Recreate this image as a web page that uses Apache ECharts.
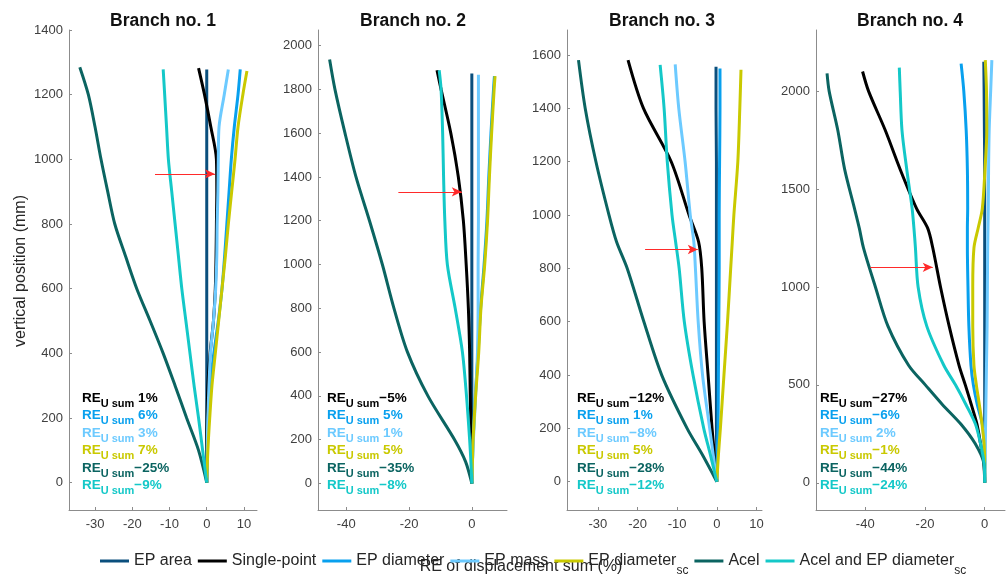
<!DOCTYPE html>
<html>
<head>
<meta charset="utf-8">
<script src="https://cdn.jsdelivr.net/npm/echarts@6/dist/echarts.min.js"></script>
<style>
html, body { margin: 0; padding: 0; background: #fff; }
#chart { width: 1008px; height: 575px; }
</style>
</head>
<body>
<div id="chart"></div>
<script>
var names = ['EP area', 'Single-point', 'EP diameter', 'EP mass', 'EP diameter_sc', 'Acel', 'Acel and EP diameter_sc'];
var colors = ['#0a4f7d', '#000000', '#08a0ee', '#6ccaff', '#c9c900', '#0b6461', '#14c8c8'];
var titles = ['Branch no. 1', 'Branch no. 2', 'Branch no. 3', 'Branch no. 4'];

// vertical position (mm), last point of each curve is its own top height
var b1Heights = [0, 100, 200, 300, 400, 500, 600, 700, 800, 900, 1000, 1100, 1200];
var b1Top = [1278, 1282, 1278, 1278, 1273, 1285, 1278];
var b1Area = [0, 0, 0, 0, 0, 0, 0, 0, 0, 0, 0, 0, 0, 0];
var b1Single = [0, 0, 0.1, 0.3, 0.9, 1.8, 2.3, 2.5, 2.6, 2.7, 2.6, 1.1, -0.6, -2.2];
var b1Diameter = [0, 0.2, 0.4, 0.9, 1.9, 3.1, 4.1, 4.8, 5.4, 6.0, 6.6, 7.4, 8.4, 9.0];
var b1Mass = [0, 0.1, 0.3, 0.6, 1.0, 1.8, 2.4, 2.7, 2.8, 3.0, 3.1, 3.3, 4.7, 5.8];
var b1DiameterSc = [0, 0.3, 0.8, 1.4, 2.3, 3.2, 4.1, 5.0, 5.8, 6.7, 7.6, 8.4, 9.7, 10.8];
var b1Acel = [0, -2.2, -5.4, -8.5, -11.7, -15.2, -18.8, -21.8, -24.7, -26.6, -28.4, -30.0, -31.8, -34.1];
var b1AcelSc = [0, -1.1, -2.2, -3.4, -4.5, -5.6, -6.7, -7.6, -8.5, -9.4, -10.3, -10.8, -11.3, -11.7];

var b2Heights = [0, 100, 200, 400, 600, 800, 1000, 1200, 1400, 1600, 1800];
var b2Top = [1872, 1887, 1860, 1867, 1860, 1936, 1887];
var b2Area = [0, 0, 0, 0, 0, 0, 0, 0, 0, 0, 0, 0];
var b2Single = [0, 0, -0.2, -0.5, -0.7, -1.1, -1.8, -2.7, -4.3, -6.7, -9.8, -11.1];
var b2Diameter = [0, 0.2, 0.4, 1.1, 2.0, 2.8, 3.9, 4.8, 5.4, 6.1, 6.9, 7.2];
var b2Mass = [0, 0.2, 0.5, 1.2, 1.8, 2.0, 2.0, 2.1, 2.1, 2.1, 2.1, 2.1];
var b2DiameterSc = [0, 0.2, 0.4, 1.2, 2.2, 2.9, 4.1, 5.0, 5.6, 6.3, 7.1, 7.4];
var b2Acel = [0, -2.0, -5.5, -14.0, -20.5, -24.8, -28.5, -32.6, -36.9, -40.4, -43.6, -45.3];
var b2AcelSc = [0, -0.3, -0.7, -1.7, -3.0, -5.3, -7.8, -8.6, -9.0, -9.3, -9.8, -10.4];

var b3Heights = [0, 100, 200, 400, 600, 800, 900, 1000, 1200, 1400];
var b3Top = [1556, 1581, 1550, 1565, 1545, 1581, 1563];
var b3Area = [0, 0, -0.1, -0.1, -0.1, -0.1, -0.1, -0.1, -0.1, -0.2, -0.2];
var b3Single = [0, -0.6, -1.2, -2.2, -3.2, -3.8, -4.6, -7.0, -11.5, -18.5, -22.4];
var b3Diameter = [0, 0.1, 0.3, 0.4, 0.5, 0.6, 0.6, 0.6, 0.7, 0.8, 0.8];
var b3Mass = [0, -0.9, -1.8, -3.6, -4.7, -5.4, -5.8, -6.7, -8.0, -9.6, -10.5];
var b3DiameterSc = [0, 0.4, 0.9, 1.8, 2.7, 3.5, 3.9, 4.3, 5.3, 5.8, 6.1];
var b3Acel = [0, -3.6, -7.5, -13.9, -18.4, -22.6, -25.3, -27.2, -30.5, -33.2, -34.9];
var b3AcelSc = [0, -1.6, -3.3, -6.0, -8.2, -9.5, -10.4, -11.3, -12.5, -13.3, -14.3];

var b4Heights = [0, 100, 200, 300, 400, 500, 600, 800, 1000, 1200, 1300, 1400, 1600, 1800, 2000];
var b4Top = [2150, 2100, 2140, 2158, 2158, 2090, 2120];
var b4Area = [0, 0, 0, 0, 0, 0, 0, 0, 0, 0, 0, 0, 0, -0.1, -0.2, -0.3];
var b4Single = [0, -0.3, -1.4, -2.6, -4.5, -6.5, -8.6, -11.9, -14.8, -17.4, -19.1, -22.8, -28.3, -33.3, -38.9, -40.9];
var b4Diameter = [0, 0, -0.2, -0.8, -2.5, -3.8, -4.6, -5.3, -5.6, -5.8, -5.8, -5.7, -5.8, -6.2, -7.0, -7.9];
var b4Mass = [0, 0.1, 0.2, 0.3, 0.4, 0.5, 0.6, 0.8, 0.9, 1.0, 1.1, 1.2, 1.3, 1.5, 2.0, 2.4];
var b4DiameterSc = [0, 0, -0.2, -0.9, -1.8, -2.8, -3.6, -4.0, -4.0, -3.6, -2.2, -0.8, 0.1, 0.7, 0.6, 0.2];
var b4Acel = [0, -0.3, -3.2, -8.0, -14.2, -19.9, -25.5, -32.4, -36.6, -40.6, -42.0, -43.6, -46.9, -49.2, -52.1, -52.8];
var b4AcelSc = [0, -0.2, -1.4, -3.1, -6.3, -9.8, -13.7, -19.4, -22.3, -23.2, -23.7, -24.3, -26.1, -27.7, -28.3, -28.6];

// RE_U sum per curve (single, diameter, mass, diameter_sc, acel, acel+sc)
var b1RE = [1, 6, 3, 7, -25, -9];
var b2RE = [-5, 5, 1, 5, -35, -8];
var b3RE = [-12, 1, -8, 5, -28, -12];
var b4RE = [-27, -6, 2, -1, -44, -24];

// red arrows: height and x from / to
var arrowY = [955, 1332, 871, 1100];
var arrowFrom = [-13.9, -23.4, -18.1, -38.3];
var arrowTo = [2.2, -3.2, -4.8, -17.4];

var xMin = [-37, -49, -37.8, -56.5];
var xMax = [13.5, 11.2, 11.4, 6.8];
var yMin = [-84.5, -121, -106, -139];
var yMax = [1400, 2071, 1694, 2312];
var xTicks = [[-30, -20, -10, 0, 10], [-40, -20, 0], [-30, -20, -10, 0, 10], [-40, -20, 0]];
var yTicks = [
    [0, 200, 400, 600, 800, 1000, 1200, 1400],
    [0, 200, 400, 600, 800, 1000, 1200, 1400, 1600, 1800, 2000],
    [0, 200, 400, 600, 800, 1000, 1200, 1400, 1600],
    [0, 500, 1000, 1500, 2000]
];

var branches = [
    {h: b1Heights, top: b1Top, lines: [b1Area, b1Single, b1Diameter, b1Mass, b1DiameterSc, b1Acel, b1AcelSc], re: b1RE},
    {h: b2Heights, top: b2Top, lines: [b2Area, b2Single, b2Diameter, b2Mass, b2DiameterSc, b2Acel, b2AcelSc], re: b2RE},
    {h: b3Heights, top: b3Top, lines: [b3Area, b3Single, b3Diameter, b3Mass, b3DiameterSc, b3Acel, b3AcelSc], re: b3RE},
    {h: b4Heights, top: b4Top, lines: [b4Area, b4Single, b4Diameter, b4Mass, b4DiameterSc, b4Acel, b4AcelSc], re: b4RE}
];

var font = 'Liberation Sans, Arial, Helvetica, sans-serif';
var axisColor = '#8c8c8c';
var gridLeft = [69, 318, 567, 816];
var gridWidth = [188, 189, 195, 189];
var titleX = [163, 413, 662, 910];
var annX = [82, 327, 577, 820];
var rowTop = [391, 408.5, 426, 443.5, 461, 478.5];

var myChart = echarts.init(document.getElementById('chart'));

var grids = [], xAxes = [], yAxes = [], series = [], graphics = [];

function plain(v) {
    return String(v);
}

branches.forEach(function (b, i) {
    grids.push({left: gridLeft[i], width: gridWidth[i], top: 30, height: 480});
    xAxes.push({
        type: 'value', gridIndex: i, min: xMin[i], max: xMax[i],
        axisLine: {show: true, onZero: false, lineStyle: {color: axisColor}},
        axisTick: {show: true, inside: true, length: 3, customValues: xTicks[i], lineStyle: {color: axisColor}},
        axisLabel: {customValues: xTicks[i], formatter: plain, color: '#404040', fontSize: 13, fontFamily: font, margin: 8},
        splitLine: {show: false}
    });
    yAxes.push({
        type: 'value', gridIndex: i, min: yMin[i], max: yMax[i],
        axisLine: {show: true, onZero: false, lineStyle: {color: axisColor}},
        axisTick: {show: true, inside: true, length: 3, customValues: yTicks[i], lineStyle: {color: axisColor}},
        axisLabel: {customValues: yTicks[i], formatter: plain, color: '#404040', fontSize: 13, fontFamily: font, margin: 6},
        splitLine: {show: false}
    });

    b.lines.forEach(function (vals, s) {
        var hs = b.h.concat([b.top[s]]);
        var data = vals.map(function (v, k) { return [v, hs[k]]; });
        var ser = {
            type: 'line', name: names[s], xAxisIndex: i, yAxisIndex: i,
            data: data, symbol: 'none', showSymbol: false, silent: true,
            smooth: 0.3,
            color: colors[s],
            lineStyle: {width: 3, color: colors[s]},
            itemStyle: {color: colors[s]}
        };
        if (s == b.lines.length - 1) {
            ser.markLine = {
                silent: true, symbol: ['none', 'arrow'], symbolSize: [7, 10],
                label: {show: false},
                lineStyle: {color: '#ff2a2a', width: 1, type: 'solid'},
                data: [[{coord: [arrowFrom[i], arrowY[i]]}, {coord: [arrowTo[i], arrowY[i]]}]]
            };
        }
        series.push(ser);
    });

    graphics.push({
        type: 'text', x: titleX[i], y: 21,
        style: {text: titles[i], font: 'bold 17.5px ' + font, fill: '#111', align: 'center', verticalAlign: 'middle'}
    });

    b.re.forEach(function (v, r) {
        var c = colors[r + 1];
        var val = v < 0 ? '\u2212' + Math.abs(v) + '%' : ' ' + v + '%';
        graphics.push({
            type: 'text', x: annX[i], y: rowTop[r],
            style: {
                text: '{re|RE}{sub|U sum}{val|' + val + '}',
                verticalAlign: 'top',
                rich: {
                    re: {fontSize: 13.5, fontWeight: 'bold', fontFamily: font, lineHeight: 14, verticalAlign: 'top', fill: c},
                    sub: {fontSize: 11, fontWeight: 'bold', fontFamily: font, lineHeight: 11, padding: [7, 0, 0, 0], verticalAlign: 'top', fill: c},
                    val: {fontSize: 13.5, fontWeight: 'bold', fontFamily: font, lineHeight: 14, verticalAlign: 'top', fill: c}
                }
            }
        });
    });
});

graphics.push({
    type: 'text', x: 21, y: 271, rotation: Math.PI / 2,
    style: {text: 'vertical position (mm)', font: '16px ' + font, fill: '#262626', align: 'center', verticalAlign: 'middle'}
});
graphics.push({
    type: 'text', x: 521, y: 567,
    style: {text: 'RE of displacement sum (%)', font: '16px ' + font, fill: '#262626', align: 'center', verticalAlign: 'middle'}
});

var option = {
    animation: false,
    backgroundColor: '#fff',
    grid: grids,
    xAxis: xAxes,
    yAxis: yAxes,
    series: series,
    graphic: graphics,
    legend: {
        data: names, left: 100, top: 545, padding: 0,
        icon: 'rect', itemWidth: 29, itemHeight: 3, itemGap: 6,
        selectedMode: false,
        formatter: function (name) {
            if (name.indexOf('_sc') > 0) {
                return '{n|' + name.replace('_sc', '') + '}{s|sc}';
            }
            return '{n|' + name + '}';
        },
        textStyle: {
            color: '#262626', fontSize: 16, fontFamily: font,
            rich: {
                n: {fontSize: 16, fontFamily: font, color: '#262626'},
                s: {fontSize: 12, fontFamily: font, color: '#262626', lineHeight: 12, padding: [20, 0, 0, 0]}
            }
        }
    }
};

myChart.setOption(option);
</script>
</body>
</html>
